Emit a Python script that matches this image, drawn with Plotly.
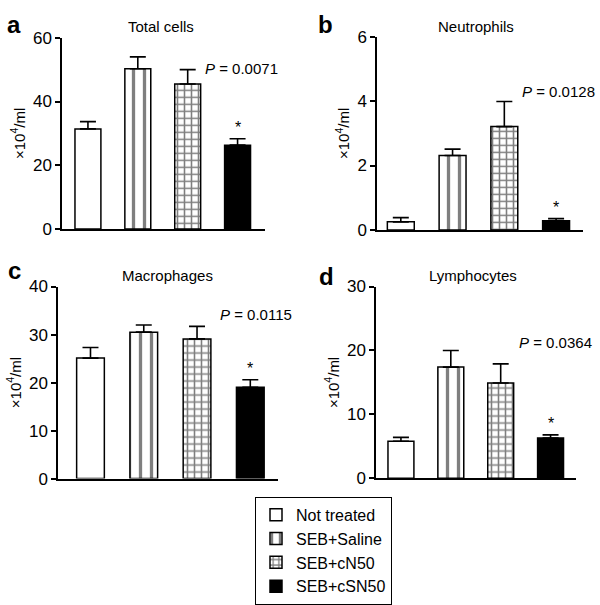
import plotly.graph_objects as go

groups = ["Not treated", "SEB+Saline", "SEB+cN50", "SEB+cSN50"]
panels = ["a", "b", "c", "d"]
titles = ["Total cells", "Neutrophils", "Macrophages", "Lymphocytes"]
p_values = ["0.0071", "0.0128", "0.0115", "0.0364"]

total_cells = [31.4, 50.3, 45.5, 26.3]
total_cells_sem = [2.3, 3.7, 4.5, 2.0]
neutrophils = [0.25, 2.31, 3.21, 0.28]
neutrophils_sem = [0.13, 0.20, 0.78, 0.07]
macrophages = [25.1, 30.5, 29.1, 19.0]
macrophages_sem = [2.2, 1.5, 2.6, 1.6]
lymphocytes = [5.8, 17.4, 14.9, 6.3]
lymphocytes_sem = [0.6, 2.6, 3.0, 0.5]

y_ticks = [[0, 20, 40, 60], [0, 2, 4, 6], [0, 10, 20, 30, 40], [0, 10, 20, 30]]

values = [total_cells, neutrophils, macrophages, lymphocytes]
sems = [total_cells_sem, neutrophils_sem, macrophages_sem, lymphocytes_sem]

W, H = 600, 605
def px(x):
    return x / W
def py(y):
    return 1 - y / H

# panel geometry in pixels: (x0, x1, ytop, ybottom), x-range
geo = [
    (62, 265, 30, 229, [-0.52, 3.55]),
    (377, 583, 29, 230, [-0.46, 3.52]),
    (58, 278, 289, 489, [-0.61, 3.52]),
    (376, 576, 289, 488.7, [-0.50, 3.51]),
]
title_pos = [(161, 18), (476, 18), (167, 277), (473, 278)]
p_pos = [(280, 62), (597, 86), (294, 318), (594, 347)]
letter_pos = [(14, 16), (325, 16), (14, 272), (326, 279)]

styles = [
    dict(color="white", pattern=dict(shape="")),
    dict(color="white", pattern=dict(shape="|", size=11, solidity=0.3, fgcolor="black", bgcolor="white", fillmode="overlay")),
    dict(color="white", pattern=dict(shape="+", size=7, solidity=0.4, fgcolor="black", bgcolor="white", fillmode="overlay")),
    dict(color="black", pattern=dict(shape="")),
]

FONT = "Liberation Sans, Arial, Helvetica, sans-serif"
fig = go.Figure()
layout = dict(
    width=W, height=H,
    margin=dict(l=0, r=0, t=0, b=0),
    paper_bgcolor="white", plot_bgcolor="white",
    barmode="overlay",
    font=dict(family=FONT, size=15, color="black"),
    showlegend=True,
    legend=dict(x=px(255), y=py(508), xanchor="left", yanchor="top",
                bordercolor="black", borderwidth=1, bgcolor="white",
                font=dict(size=16), tracegroupgap=0),
)
annotations = []

for i in range(4):
    ax = "" if i == 0 else str(i + 1)
    x0, x1, yt, yb, xr = geo[i]
    ymax = y_ticks[i][-1]
    for j, g in enumerate(groups):
        st = styles[j]
        fig.add_trace(go.Bar(
            x=[g], y=[values[i][j]], width=0.52,
            name=g, legendgroup=g, showlegend=(i == 0),
            marker=dict(color=st["color"], pattern=st["pattern"],
                        line=dict(color="black", width=1.5)),
            error_y=dict(type="data", symmetric=False, array=[sems[i][j]], arrayminus=[0],
                         color="black", thickness=1.6, width=8),
            xaxis="x" + ax, yaxis="y" + ax,
        ))
    layout["xaxis" + ax] = dict(
        domain=[px(x0), px(x1)], anchor="y" + ax, type="category",
        categoryorder="array", categoryarray=groups,
        range=xr, showticklabels=False, ticks="", showgrid=False, zeroline=False,
        showline=True, linecolor="black", linewidth=1.5,
    )
    layout["yaxis" + ax] = dict(
        domain=[py(yb), py(yt)], anchor="x" + ax, range=[0, ymax],
        tickvals=y_ticks[i], ticks="outside", ticklen=5, tickwidth=1.5, tickcolor="black",
        showgrid=False, zeroline=False, showline=True, linecolor="black", linewidth=1.5,
        tickfont=dict(size=17),
        title=dict(text="×10<sup>4</sup>/ml", font=dict(size=15), standoff=4),
    )
    tx, ty = title_pos[i]
    annotations.append(dict(text=titles[i], xref="paper", yref="paper",
                            x=px(tx), y=py(ty), showarrow=False, font=dict(size=15),
                            xanchor="center", yanchor="middle"))
    annotations.append(dict(text="*", xref="x" + ax, yref="y" + ax, x=groups[3],
                            y=values[i][3] + sems[i][3], yshift=11, showarrow=False,
                            font=dict(size=16), yanchor="middle"))
    pxr, pyc = p_pos[i]
    annotations.append(dict(text="<i>P</i> = " + p_values[i], xref="paper", yref="paper",
                            x=px(pxr), y=py(pyc), showarrow=False, font=dict(size=15),
                            xanchor="right", yanchor="middle"))

for i, (lx, ly) in enumerate(letter_pos):
    annotations.append(dict(text="<b>" + panels[i] + "</b>", xref="paper", yref="paper",
                            x=px(lx), y=py(ly), showarrow=False, font=dict(size=24),
                            xanchor="center", yanchor="middle"))

layout["annotations"] = annotations
fig.update_layout(**layout)
fig.write_html("out.html", config={"displayModeBar": False},
               post_script="document.body.style.margin='0';")
